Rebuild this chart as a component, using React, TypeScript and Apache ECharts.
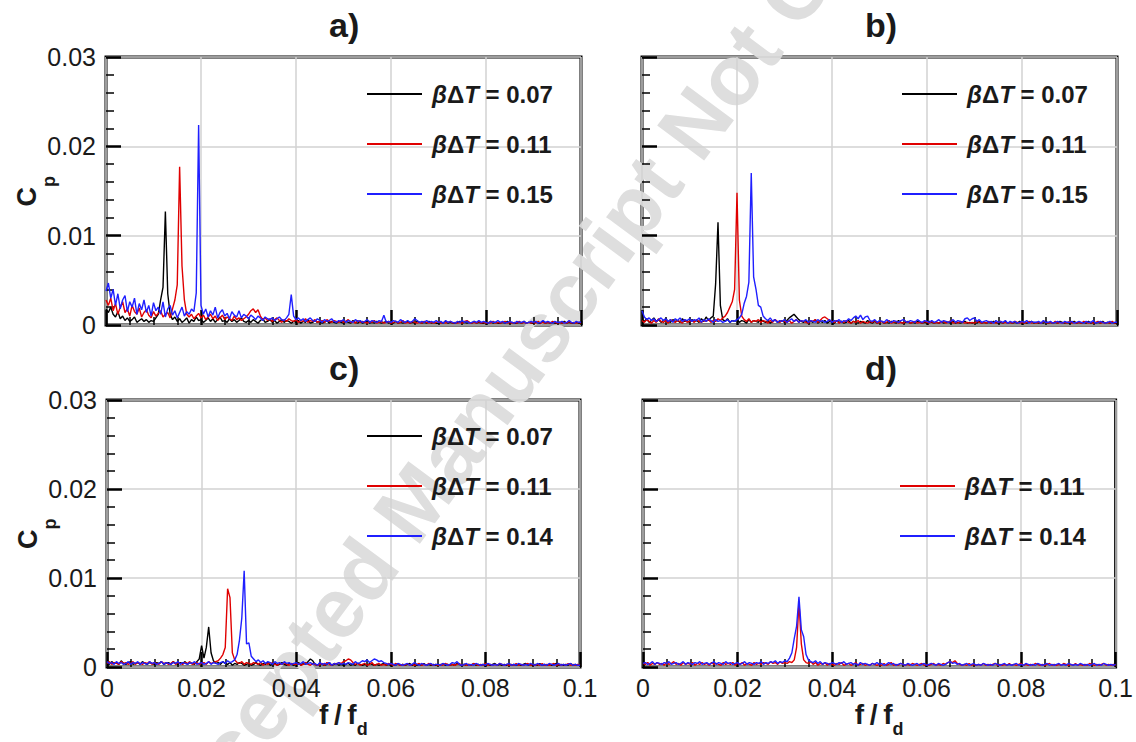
import React, { useEffect, useRef } from "react";
import * as echarts from "echarts";

// frequency bins (f/f_d), uniform FFT grid
const STEP = 0.0005;
const N = 201;
const FREQ: number[] = Array.from({ length: N }, (_, i) => +(i * STEP).toFixed(4));
// Cp values below are stored in units of 1e-4
const UNIT = 1e-4;

const X_TICK_LABELS = ["0", "0.02", "0.04", "0.06", "0.08", "0.1"];
const Y_TICK_LABELS = ["0", "0.01", "0.02", "0.03"];
const PANEL_TITLES = ["a)", "b)", "c)", "d)"];

const NAME_07 = "βΔT = 0.07";
const NAME_11 = "βΔT = 0.11";
const NAME_15 = "βΔT = 0.15";
const NAME_14 = "βΔT = 0.14";

// ---- panel a ----
const A07 = [
  18,14,20,12,9,15,7,10,5,8,4,6,9,3,5,7,4,6,3,5,
  4,8,12,28,42,127,35,12,6,9,4,7,3,5,8,2,6,4,9,5,
  6,3,5,8,4,7,3,6,9,4,5,3,7,4,6,3,5,8,4,3,
  5,3,6,4,2,5,7,3,4,6,3,5,2,4,6,3,5,4,2,4,
  3,5,2,4,3,6,2,3,5,3,4,2,3,5,2,4,3,2,4,3,
  2,4,3,2,5,3,2,4,2,3,5,2,3,2,4,3,2,3,4,2,
  3,2,4,2,3,2,3,4,2,3,2,4,3,2,3,2,4,2,3,2,
  2,3,2,4,2,3,2,2,3,4,2,3,2,3,2,4,2,3,2,2,
  3,2,4,2,3,2,2,3,2,4,2,3,2,2,3,2,4,2,3,2,
  2,3,2,2,4,2,3,2,3,2,2,3,2,4,2,3,2,2,3,2,
  2,
];
const A11 = [
  28,22,30,16,24,12,20,26,14,18,10,22,15,12,19,9,14,17,11,8,
  15,10,13,16,9,12,14,8,18,28,45,177,66,28,12,9,12,7,10,13,
  8,11,6,9,12,7,10,5,8,11,6,9,7,5,10,6,8,5,7,9,
  12,16,18,14,17,10,6,8,5,7,4,6,8,5,3,6,4,7,5,4,
  6,3,5,4,7,3,5,4,6,3,4,5,3,6,4,3,5,4,3,5,
  3,4,6,3,4,2,5,3,4,3,2,4,3,5,2,3,4,2,3,4,
  2,3,4,2,3,5,2,3,2,4,3,2,3,2,4,3,2,3,2,3,
  4,2,3,2,3,4,2,3,2,3,2,4,5,3,2,3,2,4,2,3,
  2,3,2,4,2,3,2,3,4,2,3,2,3,2,4,2,3,2,3,2,
  3,2,4,2,3,2,3,2,4,3,2,3,2,3,2,4,2,3,2,3,
  2,
];
const A15 = [
  38,47,30,40,22,35,18,28,33,15,26,20,30,12,24,17,28,14,22,10,
  25,16,20,12,26,9,18,22,11,16,8,14,20,10,15,12,18,15,36,224,
  22,12,18,9,16,11,20,8,14,17,10,13,7,15,11,9,16,8,12,10,
  7,11,9,6,10,8,5,9,7,6,8,5,7,9,6,5,8,12,34,10,
  6,8,5,7,4,6,8,5,4,7,5,3,6,4,5,7,4,3,5,4,
  6,3,5,4,3,6,4,5,3,4,6,3,5,4,3,5,4,11,3,4,
  3,5,4,3,6,4,3,5,3,4,7,5,3,4,3,5,3,4,3,5,
  3,4,2,5,3,4,3,2,4,3,5,3,4,2,3,4,3,5,3,4,
  3,2,4,3,3,5,3,4,2,3,4,3,2,4,3,3,4,2,3,4,
  3,4,2,3,5,3,4,3,2,4,3,3,4,2,3,5,3,2,4,3,
  3,
];

// ---- panel b ----
const B07 = [
  6,4,7,3,5,8,4,6,3,5,7,4,3,6,4,5,3,7,4,5,
  3,6,4,5,3,7,4,9,5,8,10,46,115,22,6,4,7,3,5,4,
  6,3,5,4,2,6,3,5,4,3,6,4,3,5,2,4,6,3,4,5,
  3,5,8,10,12,9,6,4,3,5,2,4,3,6,2,4,3,5,2,4,
  3,2,5,3,4,2,3,5,2,4,3,2,4,3,2,5,3,2,4,2,
  3,4,2,3,2,4,3,2,5,3,2,3,4,2,3,2,4,3,2,3,
  2,4,3,2,3,2,4,2,3,3,2,4,2,3,2,3,4,2,3,2,
  3,2,4,2,3,2,3,2,4,3,2,3,2,4,2,3,2,3,2,4,
  2,3,2,3,4,2,3,2,3,2,4,2,3,2,3,2,4,3,2,3,
  2,3,4,2,3,2,3,2,4,2,3,2,3,2,4,2,3,2,3,2,
  2,
];
const B11 = [
  5,3,6,4,2,5,3,7,4,3,5,2,6,4,3,5,4,2,6,3,
  4,5,3,6,4,3,5,4,6,3,5,4,7,5,8,10,14,20,26,40,
  148,28,10,6,4,7,3,5,4,6,3,5,4,2,5,3,6,4,3,5,
  4,3,5,2,4,6,3,5,4,3,2,5,4,6,3,5,8,9,7,5,
  4,3,5,2,4,3,5,3,2,4,3,5,2,4,3,2,4,3,5,2,
  3,4,2,3,5,2,3,4,2,3,2,4,3,2,3,4,2,3,2,4,
  3,2,4,2,3,2,3,4,2,3,5,2,3,2,4,3,2,3,2,3,
  2,4,3,2,3,2,4,2,3,2,3,4,2,3,2,3,2,4,3,2,
  3,2,3,4,2,3,2,3,2,4,3,2,3,2,4,2,3,2,3,2,
  4,2,3,2,3,2,4,3,2,3,2,3,4,2,3,2,3,2,4,2,
  3,
];
const B15 = [
  16,9,6,8,5,7,4,6,8,5,7,4,6,3,7,5,8,4,6,5,
  7,4,6,5,8,3,6,4,7,5,3,6,4,5,3,4,6,3,5,4,
  6,8,12,24,32,48,170,54,40,22,20,10,7,5,8,4,6,3,5,4,
  6,3,5,7,4,6,3,5,4,6,3,5,4,3,6,4,5,3,4,6,
  3,5,4,6,3,5,4,7,5,8,10,7,11,6,9,10,5,4,6,3,
  5,4,3,6,4,3,5,4,3,5,6,4,3,5,4,3,6,4,3,5,
  4,3,5,3,4,6,3,5,4,3,4,6,3,5,4,3,7,8,5,7,
  8,4,6,3,4,5,3,4,2,5,3,4,3,5,2,4,3,4,2,3,
  4,3,5,2,4,3,3,4,2,5,3,3,4,2,3,4,3,2,4,3,
  3,4,2,3,4,3,2,4,3,3,5,2,3,4,3,2,3,4,2,3,
  3,
];

// ---- panel c ----
const C07 = [
  5,3,6,4,5,3,7,4,3,5,6,3,4,5,3,6,4,3,5,4,
  3,5,4,6,3,4,5,3,6,4,3,5,4,6,3,5,4,3,6,9,
  24,10,22,45,16,7,4,5,3,6,4,3,5,2,4,3,5,4,2,3,
  4,2,3,5,3,2,4,3,5,2,3,4,2,3,5,3,2,4,3,2,
  3,5,2,4,3,6,9,7,3,2,4,3,2,3,5,2,3,4,2,3,
  2,3,4,2,3,2,4,3,2,3,2,4,3,2,3,2,3,4,2,3,
  2,3,2,4,2,3,2,3,4,2,3,2,3,2,4,2,3,2,3,2,
  3,2,4,2,3,2,3,2,4,3,2,3,2,3,2,4,2,3,2,3,
  2,3,2,3,4,2,3,2,3,2,4,2,3,2,3,2,3,4,2,3,
  2,3,2,4,2,3,2,3,2,3,4,2,3,2,3,2,4,2,3,2,
  2,
];
const C11 = [
  4,6,3,5,4,3,6,4,5,3,4,6,3,5,4,3,5,4,6,3,
  5,4,3,6,4,5,3,4,6,3,5,4,3,5,4,6,3,4,5,3,
  4,5,3,6,4,5,6,7,10,14,22,88,78,16,8,5,4,6,3,5,
  4,3,5,4,3,5,2,4,3,5,4,3,2,4,3,5,3,2,4,3,
  3,4,2,3,5,3,2,4,3,2,3,4,2,5,3,2,4,3,5,4,
  6,7,9,8,5,3,4,2,3,4,2,3,5,2,3,4,2,3,2,4,
  3,2,4,3,2,3,2,4,2,3,2,3,4,2,3,2,4,3,2,3,
  2,3,2,4,3,2,3,2,3,4,2,3,2,3,2,4,3,2,3,2,
  4,2,3,2,3,2,4,3,2,3,2,3,2,4,2,3,2,3,4,2,
  3,2,3,2,4,2,3,2,3,4,2,3,2,3,2,4,2,3,2,3,
  2,
];
const C14 = [
  6,4,5,3,6,4,5,3,4,6,3,5,4,6,3,5,4,3,6,4,
  5,3,4,6,3,5,4,3,5,4,6,3,5,4,3,5,4,6,3,4,
  5,3,4,6,3,5,4,3,5,6,4,7,5,6,8,14,30,55,108,26,
  27,12,9,6,8,5,7,4,6,5,3,6,4,5,3,6,4,5,3,4,
  5,3,4,6,3,4,5,3,4,2,5,3,4,3,5,2,4,3,5,3,
  4,3,5,4,3,6,4,5,7,6,8,5,7,9,8,6,7,5,4,3,
  4,3,2,4,3,2,3,4,2,3,5,3,2,4,3,2,3,4,2,3,
  3,2,4,3,2,3,5,4,6,3,2,3,4,2,3,2,4,3,2,3,
  2,4,3,2,3,2,4,3,2,3,4,2,3,2,4,3,2,3,2,4,
  3,2,4,3,2,3,2,4,3,2,3,4,2,3,2,3,4,2,3,2,
  2,
];

// ---- panel d ----
const D11 = [
  4,3,5,2,4,3,5,3,4,2,5,3,4,6,3,4,2,5,3,4,
  3,5,2,4,3,5,3,4,2,5,3,4,3,2,5,3,4,3,5,2,
  4,3,5,2,4,3,2,5,3,4,3,5,4,3,6,4,5,3,6,4,
  5,4,6,5,8,22,73,26,8,5,4,6,3,5,2,4,3,5,2,4,
  3,2,4,3,5,2,3,4,2,3,5,2,3,4,2,3,2,4,3,2,
  3,2,4,2,3,5,2,3,2,4,3,2,3,2,4,3,2,3,4,2,
  3,2,3,4,2,3,2,4,3,5,6,5,7,4,3,2,3,2,4,2,
  3,2,3,2,4,2,3,2,3,4,2,3,2,3,2,4,2,3,2,3,
  4,2,3,2,3,2,4,3,2,3,2,3,4,2,3,2,3,2,4,3,
  2,3,2,4,2,3,2,3,2,4,3,2,3,2,3,4,2,3,2,3,
  2,
];
const D14 = [
  4,5,3,4,6,3,5,4,3,5,4,6,3,4,5,3,4,6,3,5,
  4,3,5,4,6,3,4,5,3,4,6,3,5,4,3,6,4,5,3,4,
  5,3,4,6,3,5,4,3,5,4,6,3,5,4,6,5,7,4,6,5,
  7,6,10,16,32,46,79,42,34,14,8,6,5,7,4,6,3,5,4,3,
  5,4,3,5,4,6,3,4,5,3,4,2,5,3,4,3,2,4,3,5,
  3,4,2,3,5,3,4,2,3,4,3,2,4,3,2,3,4,2,3,4,
  2,3,4,3,2,4,3,2,3,5,6,4,5,3,4,2,3,4,2,3,
  4,2,3,2,4,3,2,3,2,4,3,2,3,4,2,3,2,3,4,2,
  3,2,4,3,2,3,2,4,3,2,3,4,2,3,2,3,4,2,3,2,
  4,3,2,3,2,4,3,2,3,2,3,4,2,3,2,4,3,2,3,2,
  3,
];

const BLACK = "#000000";
const RED = "#e00000";
const BLUE = "#1f1fff";
const TEXT = "#1a1a1a";
const FONT = "'Liberation Sans', Arial, Helvetica, sans-serif";

type S = [string, number[], string];
const PANELS: {
  series: S[];
  grid: { left: number; top: number; width: number; height: number };
  xLabels: boolean;
  yLabels: boolean;
  legend: { left: number; top: number };
  titleLeft: number;
  titleTop: number;
}[] = [
  {
    series: [[NAME_07, A07, BLACK], [NAME_11, A11, RED], [NAME_15, A15, BLUE]],
    grid: { left: 106, top: 57, width: 475, height: 268 },
    xLabels: false, yLabels: true,
    legend: { left: 367, top: 82 },
    titleLeft: 329, titleTop: 8,
  },
  {
    series: [[NAME_07, B07, BLACK], [NAME_11, B11, RED], [NAME_15, B15, BLUE]],
    grid: { left: 642, top: 57, width: 475, height: 268 },
    xLabels: false, yLabels: false,
    legend: { left: 902, top: 82 },
    titleLeft: 865, titleTop: 8,
  },
  {
    series: [[NAME_07, C07, BLACK], [NAME_11, C11, RED], [NAME_14, C14, BLUE]],
    grid: { left: 107, top: 400, width: 473, height: 267 },
    xLabels: true, yLabels: true,
    legend: { left: 367, top: 424 },
    titleLeft: 329, titleTop: 351,
  },
  {
    series: [[NAME_11, D11, RED], [NAME_14, D14, BLUE]],
    grid: { left: 643, top: 400, width: 474, height: 267 },
    xLabels: true, yLabels: false,
    legend: { left: 900, top: 474 },
    titleLeft: 865, titleTop: 351,
  },
];

const legendRich = {
  b0: { fontStyle: "italic", fontWeight: "bold", fontSize: 24, fontFamily: FONT, color: TEXT, lineHeight: 26, padding: [0, 0, 0, 5] },
  d: { fontWeight: "bold", fontSize: 24, fontFamily: FONT, color: TEXT, lineHeight: 26 },
  t: { fontStyle: "italic", fontWeight: "bold", fontSize: 24, fontFamily: FONT, color: TEXT, lineHeight: 26 },
  n: { fontWeight: "bold", fontSize: 24, fontFamily: FONT, color: TEXT, lineHeight: 26 },
};

function buildOption() {
  const grid: any[] = [];
  const xAxis: any[] = [];
  const yAxis: any[] = [];
  const series: any[] = [];
  const legend: any[] = [];
  const title: any[] = [];

  PANELS.forEach((p, k) => {
    grid.push({ ...p.grid, show: true, borderColor: "#000", borderWidth: 3, backgroundColor: "transparent", containLabel: false });
    xAxis.push({
      type: "value", gridIndex: k, min: 0, max: 0.1, interval: 0.02,
      axisLine: { show: false },
      axisTick: { show: true, inside: true, length: 15, lineStyle: { color: "#000", width: 2.5 } },
      minorTick: { show: true, splitNumber: 4, length: 8, lineStyle: { color: "#000", width: 1.5 } },
      splitLine: { show: true, lineStyle: { color: "#d2d2d2", width: 1.5 } },
      axisLabel: {
        show: p.xLabels, margin: 8, fontSize: 25, color: TEXT, fontFamily: FONT,
        showMinLabel: true, showMaxLabel: true,
        formatter: (v: number) => X_TICK_LABELS[Math.round(v / 0.02)] ?? "",
      },
      name: p.xLabels ? "{c|f\u2009/\u2009f}{d|d}{s| }" : "",
      nameLocation: "middle",
      nameGap: 33,
      nameMoveOverlap: false,
      nameTextStyle: {
        rich: {
          c: { fontSize: 28, fontWeight: "bold", fontFamily: FONT, color: TEXT, lineHeight: 28, verticalAlign: "top" },
          d: { fontSize: 18, fontWeight: "bold", fontFamily: FONT, color: TEXT, lineHeight: 18, verticalAlign: "bottom" },
          s: { fontSize: 1, lineHeight: 38 },
        },
      },
    });
    yAxis.push({
      type: "value", gridIndex: k, min: 0, max: 0.03, interval: 0.01,
      axisLine: { show: false },
      axisTick: { show: true, inside: true, length: 15, lineStyle: { color: "#000", width: 2.5 } },
      minorTick: { show: true, splitNumber: 5, length: 8, lineStyle: { color: "#000", width: 1.5 } },
      splitLine: { show: true, lineStyle: { color: "#d2d2d2", width: 1.5 } },
      axisLabel: {
        show: p.yLabels, margin: 10, fontSize: 25, color: TEXT, fontFamily: FONT,
        formatter: (v: number) => Y_TICK_LABELS[Math.round(v / 0.01)] ?? "",
      },
      name: p.yLabels ? "{c|C}{p|p}{s| }" : "",
      nameLocation: "middle",
      nameRotate: 90,
      nameGap: 48,
      nameMoveOverlap: false,
      nameTextStyle: {
        rich: {
          c: { fontSize: 27, fontWeight: "bold", fontFamily: FONT, color: TEXT, lineHeight: 27, verticalAlign: "top" },
          p: { fontSize: 18, fontWeight: "bold", fontFamily: FONT, color: TEXT, lineHeight: 18, verticalAlign: "bottom" },
          s: { fontSize: 1, lineHeight: 45 },
        },
      },
    });
    p.series.forEach(([name, vals, color]) => {
      series.push({
        type: "line", name, xAxisIndex: k, yAxisIndex: k,
        data: vals.map((v, i) => [FREQ[i], v * UNIT]),
        showSymbol: false, symbol: "none", clip: true,
        color, itemStyle: { color },
        lineStyle: { color, width: 1.4 },
        z: 3,
      });
    });
    legend.push({
      data: p.series.map((s) => s[0]),
      left: p.legend.left, top: p.legend.top,
      orient: "vertical", icon: "rect", itemWidth: 55, itemHeight: 2, itemGap: 26,
      selectedMode: false, padding: 0,
      formatter: (name: string) => `{b0|β}{d|Δ}{t|T}{n| = ${name.split("= ")[1]}}`,
      textStyle: { fontSize: 24, fontWeight: "bold", color: TEXT, fontFamily: FONT, rich: legendRich },
    });
    title.push({
      text: PANEL_TITLES[k], left: p.titleLeft, top: p.titleTop, padding: 0,
      textStyle: { fontSize: 34, fontWeight: "bold", color: TEXT, fontFamily: FONT },
    });
  });

  return {
    animation: false,
    backgroundColor: "#ffffff",
    title, grid, xAxis, yAxis, series, legend,
    graphic: [
      {
        type: "text", x: 601, y: 250, rotation: (53.4 * Math.PI) / 180, silent: true, z: 0,
        style: {
          text: "Accepted Manuscript Not Copyedited",
          fontSize: 85, fontWeight: "bold", fontFamily: FONT,
          fill: "#dedede", align: "center", verticalAlign: "middle",
        },
      },
    ],
  };
}

export default function App() {
  const ref = useRef<HTMLDivElement>(null);
  useEffect(() => {
    if (!ref.current) return;
    const chart = echarts.init(ref.current, undefined, { renderer: "svg" });
    chart.setOption(buildOption() as any);
    return () => chart.dispose();
  }, []);
  return (
    <div
      ref={ref}
      style={{ position: "absolute", left: 0, top: 0, width: 1136, height: 742, background: "#fff" }}
    />
  );
}
